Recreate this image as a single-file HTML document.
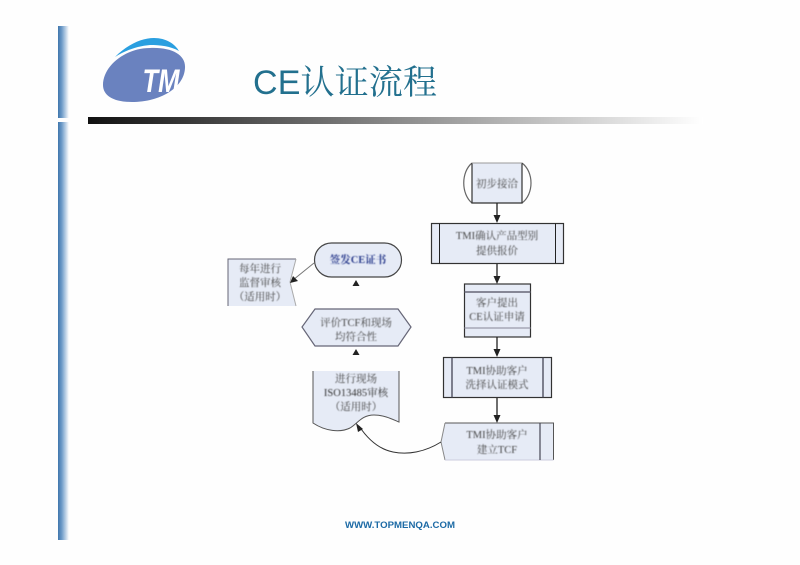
<!DOCTYPE html>
<html><head><meta charset="utf-8"><style>
html,body{margin:0;padding:0;background:#fff}
svg{display:block}
text{font-family:"Liberation Serif","Noto Serif CJK SC",serif;fill:#444;text-anchor:middle;font-size:10.5px}
</style></head><body>
<svg width="800" height="565" viewBox="0 0 800 565" xmlns="http://www.w3.org/2000/svg">
<defs>
<linearGradient id="lb" x1="0" x2="1" y1="0" y2="0"><stop offset="0" stop-color="#3f76ad"/><stop offset=".35" stop-color="#6f9cc9"/><stop offset="1" stop-color="#fff"/></linearGradient>
<linearGradient id="hb" x1="0" x2="1" y1="0" y2="0"><stop offset="0" stop-color="#111"/><stop offset=".5" stop-color="#8a8a8a"/><stop offset="1" stop-color="#fff"/></linearGradient>
<filter id="bl" x="-5%" y="-5%" width="110%" height="110%"><feGaussianBlur stdDeviation="0.5"/></filter>
<filter id="b2" x="-5%" y="-5%" width="110%" height="110%"><feGaussianBlur stdDeviation="0.3"/></filter>
</defs>
<rect width="800" height="565" fill="#fefefe"/>
<rect x="58" y="26" width="11" height="92" fill="url(#lb)"/>
<rect x="58" y="122" width="11" height="418" fill="url(#lb)"/>
<rect x="88" y="117" width="615" height="7" fill="url(#hb)"/>

<g filter="url(#b2)">
<path d="M103 85 C103 66 125 48 150 48 C172 47 186 55 185 68 C184 88 160 102 132 102 C114 102 103 96 103 85Z" fill="#6a82bf"/>
<path d="M115 57 C128 44 142 38 154 38 C166 38 175 44 179 51 C170 46 160 45 150 45 C138 46 126 50 115 57Z" fill="#2a9fe0"/>
<text x="161" y="92" style="font-family:'Liberation Sans',sans-serif;font-size:32px;font-weight:bold;font-style:italic;fill:#fff" textLength="37" lengthAdjust="spacingAndGlyphs">TM</text>
</g>
<text x="253" y="94" textLength="184" lengthAdjust="spacing" style="text-anchor:start;font-family:'Liberation Sans','Noto Serif CJK SC',serif;font-size:34px;fill:#236f8e" filter="url(#b2)">CE认证流程</text>

<g filter="url(#b2)">
<!-- shape 1 -->
<rect x="472" y="163" width="50" height="40" fill="#e6ebf6"/>
<path d="M472 163 C461 172 461 194 472 203 M522 163 C534 172 534 194 522 203" fill="none" stroke="#666" stroke-width="1.2"/>
<path d="M472 163V203H522V163" fill="none" stroke="#333" stroke-width="1.2"/>
<path d="M472 163H522" stroke="#999" stroke-width="1"/>
<!-- shape 2 -->
<rect x="431.500" y="223.500" width="132" height="40" fill="#e6ebf6" stroke="#333" stroke-width="1.2"/>
<path d="M439.500 223.500V263.500M555.500 223.500V263.500" stroke="#222" stroke-width="1"/>
<!-- shape 3 -->
<rect x="464.500" y="284" width="66" height="53" fill="#e6ebf6" stroke="#333" stroke-width="1.2"/>
<path d="M464.500 292H530.500" stroke="#667" stroke-width="1.600"/>
<path d="M464.500 328H530.500" stroke="#99a" stroke-width="1.200"/>
<!-- shape 4 -->
<rect x="443.500" y="357.500" width="108" height="40" fill="#e6ebf6" stroke="#333" stroke-width="1.2"/>
<path d="M452 357.500V397.500M543 357.500V397.500" stroke="#445" stroke-width="1.300"/>
<!-- shape 5 -->
<path d="M445 423H553.500V460H445L441 442Z" fill="#e6ebf6"/>
<path d="M445 423H553.500V460" fill="none" stroke="#555" stroke-width="1"/>
<path d="M445 423L441 442L445 460" fill="none" stroke="#888" stroke-width="1"/>
<path d="M445 460H553.500" stroke="#ccd" stroke-width="1"/>
<path d="M540 423V460" stroke="#445" stroke-width="1.200"/>
<!-- connectors -->
<path d="M497 203V216M497 264V277M497 337V350M497 398V416" stroke="#222" stroke-width="1.300"/>
<path d="M493.500 215H500.500L497 223ZM493.500 276H500.500L497 284ZM493.500 349H500.500L497 357ZM493.500 415H500.500L497 423Z" fill="#222"/>
<!-- document -->
<path d="M313 371V423C325 431 340 433 350 428C358 423 362 415 374 415C384 415 392 419 399 422V371Z" fill="#e6ebf6"/>
<path d="M313 371V423C325 431 340 433 350 428C358 423 362 415 374 415C384 415 392 419 399 422V371" fill="none" stroke="#555" stroke-width="1"/>
<!-- curve -->
<path d="M441 442C425 452 408 455 393 452C378 449 367 438 359 426" fill="none" stroke="#333" stroke-width="1"/>
<path d="M356 423L363 429L358 432Z" fill="#222"/>
<!-- terminator -->
<rect x="314.500" y="243" width="87" height="34" rx="17" fill="#e6ebf6" stroke="#444" stroke-width="1.2"/>
<path d="M352.500 286L356 280L359.500 286Z" fill="#222"/>
<!-- hexagon -->
<path d="M315 309H398L411 327L398 346H315L302 327Z" fill="#e6ebf6"/>
<path d="M315 309H398L411 327L398 346H315L302 327Z" fill="none" stroke="#667" stroke-width="1.200"/>
<path d="M352.500 355L356 349L359.500 355Z" fill="#222"/>
<!-- left -->
<path d="M228 259H296L290 282L296 306H228Z" fill="#e6ebf6"/>
<path d="M228 306V259H296" fill="none" stroke="#667" stroke-width="1"/>
<path d="M296 259L290 282L296 306" fill="none" stroke="#aaa" stroke-width="1"/>
<path d="M314 263L293 280" stroke="#777" stroke-width="1"/>
<path d="M290 283L293 276L298 281Z" fill="#222"/>
</g>

<g filter="url(#bl)">
<text x="497" y="187">初步接洽</text>
<text x="497" y="239">TMI确认产品型别</text>
<text x="497" y="254">提供报价</text>
<text x="497" y="306">客户提出</text>
<text x="497" y="320">CE认证申请</text>
<text x="497" y="374">TMI协助客户</text>
<text x="497" y="388">洗择认证模式</text>
<text x="497" y="438">TMI协助客户</text>
<text x="497" y="453">建立TCF</text>
<text x="358" y="263" style="fill:#2f3f8f;font-weight:bold">签发CE证书</text>
<text x="260" y="272">每年进行</text>
<text x="260" y="286">监督审核</text>
<text x="260" y="300">（适用时）</text>
<text x="356" y="326">评价TCF和现场</text>
<text x="356" y="340">均符合性</text>
<text x="356" y="382">进行现场</text>
<text x="356" y="396" style="fill:#333">ISO13485审核</text>
<text x="356" y="410">（适用时）</text>
</g>
<text x="400" y="528" style="font-family:'Liberation Sans',sans-serif;font-size:9.5px;font-weight:bold;fill:#1d6aa5" textLength="110" lengthAdjust="spacingAndGlyphs" filter="url(#b2)">WWW.TOPMENQA.COM</text>
</svg>
</body></html>
